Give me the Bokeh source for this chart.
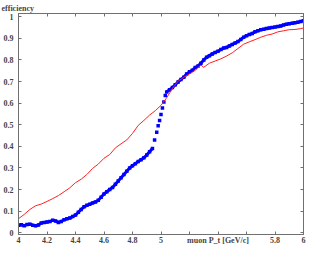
from bokeh.plotting import figure
from bokeh.models import Range1d, LinearAxis, FixedTicker
from bokeh.embed import file_html
from bokeh.resources import INLINE

# ---- data ----
red_x = [4.00, 4.04, 4.08, 4.12, 4.16, 4.20, 4.24, 4.28, 4.32, 4.36, 4.40, 4.44, 4.48,
         4.52, 4.56, 4.60, 4.64, 4.68, 4.72, 4.76, 4.80, 4.84, 4.88, 4.92, 4.96, 5.00,
         5.04, 5.08, 5.12, 5.16, 5.20, 5.24, 5.28, 5.30, 5.34, 5.38, 5.42, 5.46, 5.50,
         5.54, 5.58, 5.62, 5.66, 5.70, 5.74, 5.78, 5.82, 5.86, 5.90, 5.94, 5.98, 6.00]
red_y = [0.065, 0.085, 0.108, 0.125, 0.133, 0.145, 0.158, 0.172, 0.19, 0.208, 0.232, 0.248, 0.27,
         0.298, 0.318, 0.345, 0.362, 0.393, 0.412, 0.43, 0.46, 0.497, 0.52, 0.545, 0.565, 0.59,
         0.625, 0.668, 0.702, 0.72, 0.735, 0.752, 0.776, 0.766, 0.785, 0.795, 0.805, 0.818, 0.833,
         0.853, 0.873, 0.884, 0.894, 0.905, 0.914, 0.92, 0.93, 0.935, 0.94, 0.941, 0.945, 0.948]

blue_x = [4.00, 4.02, 4.04, 4.06, 4.08, 4.10, 4.12, 4.14, 4.16, 4.18, 4.20, 4.22, 4.24, 4.26,
          4.28, 4.30, 4.32, 4.34, 4.36, 4.38, 4.40, 4.42, 4.44, 4.46, 4.48, 4.50, 4.52, 4.54,
          4.56, 4.58, 4.60, 4.62, 4.64, 4.66, 4.68, 4.70, 4.72, 4.74, 4.76, 4.78, 4.80, 4.82,
          4.84, 4.86, 4.88, 4.90, 4.92, 4.94, 4.955, 4.97, 4.98, 4.99, 5.00, 5.01, 5.02, 5.03,
          5.04, 5.06, 5.08, 5.10, 5.12, 5.14, 5.16, 5.18, 5.20, 5.22, 5.24, 5.26, 5.28, 5.30,
          5.32, 5.34, 5.36, 5.38, 5.40, 5.42, 5.44, 5.46, 5.48, 5.50, 5.52, 5.54, 5.56, 5.58,
          5.60, 5.62, 5.64, 5.66, 5.68, 5.70, 5.72, 5.74, 5.76, 5.78, 5.80, 5.82, 5.84, 5.86,
          5.88, 5.90, 5.92, 5.94, 5.96, 5.98, 6.00]
blue_y = [0.035, 0.037, 0.033, 0.038, 0.04, 0.035, 0.032, 0.036, 0.045, 0.048, 0.05, 0.052, 0.058, 0.055,
          0.048, 0.052, 0.06, 0.065, 0.068, 0.075, 0.082, 0.095, 0.108, 0.12, 0.127, 0.132, 0.138, 0.143,
          0.15, 0.165, 0.18, 0.19, 0.2, 0.21, 0.225, 0.24, 0.255, 0.27, 0.285, 0.3, 0.31, 0.32,
          0.33, 0.338, 0.347, 0.36, 0.375, 0.39, 0.43, 0.465, 0.495, 0.52, 0.548, 0.578, 0.605, 0.635,
          0.652, 0.662, 0.672, 0.685, 0.698, 0.71, 0.72, 0.735, 0.745, 0.752, 0.765, 0.772, 0.785, 0.8,
          0.812, 0.82, 0.828, 0.835, 0.84, 0.848, 0.855, 0.858, 0.865, 0.872, 0.878, 0.885, 0.895, 0.905,
          0.912, 0.918, 0.922, 0.93, 0.935, 0.94, 0.942, 0.945, 0.948, 0.95, 0.952, 0.955, 0.957, 0.962,
          0.965, 0.968, 0.97, 0.972, 0.975, 0.978, 0.982]
# indices where the blue points are dense enough to form a continuous band
blue_low_end = 48
blue_high_start = 56

x_ticks = [4.0, 4.2, 4.4, 4.6, 4.8, 5.0, 5.2, 5.4, 5.6, 5.8, 6.0]
x_tick_labels = ["4", "4.2", "4.4", "4.6", "4.8", "5", "", "muon P_t [GeV/c]", "", "5.8", "6"]
y_ticks = [0, 0.1, 0.2, 0.3, 0.4, 0.5, 0.6, 0.7, 0.8, 0.9, 1]
y_tick_labels = ["0", "0.1", "0.2", "0.3", "0.4", "0.5", "0.6", "0.7", "0.8", "0.9", "1"]

FONT = "Liberation Serif"
AXIS_COLOR = "#707070"

p = figure(width=309, height=247, output_backend="svg", toolbar_location=None,
           x_range=Range1d(4, 6), y_range=Range1d(-0.008, 1.015),
           x_axis_location=None, y_axis_location=None,
           min_border_left=0, min_border_right=6, min_border_top=10, min_border_bottom=0)
p.title.text = "efficiency"
p.title.align = "left"
p.title.offset = -17
p.title.standoff = 2
p.title.text_font = FONT
p.title.text_font_size = "8px"
p.title.text_font_style = "bold"
p.grid.visible = False
p.outline_line_color = AXIS_COLOR
p.background_fill_color = "white"
p.border_fill_color = "white"


def style_axis(ax, labels):
    ax.axis_label = None
    ax.axis_line_color = AXIS_COLOR
    ax.major_tick_line_color = AXIS_COLOR
    ax.major_tick_in = 3
    ax.major_tick_out = 0
    ax.minor_tick_line_color = None
    ax.axis_label_standoff = 0
    ax.major_label_text_font = FONT
    ax.major_label_text_font_size = "8px" if labels else "0px"
    ax.major_label_text_font_style = "bold"
    ax.major_label_standoff = 3 if labels else 0


xb = LinearAxis(ticker=FixedTicker(ticks=x_ticks))
xb.major_label_overrides = {t: l for t, l in zip(x_ticks, x_tick_labels)}
style_axis(xb, True)
xb.major_label_standoff = 1
p.add_layout(xb, "below")

xt = LinearAxis(ticker=FixedTicker(ticks=x_ticks))
style_axis(xt, False)
xt.major_label_text_color = None
p.add_layout(xt, "above")

yl = LinearAxis(ticker=FixedTicker(ticks=y_ticks))
yl.major_label_overrides = {t: l for t, l in zip(y_ticks, y_tick_labels)}
style_axis(yl, True)
yl.major_label_standoff = 5
p.add_layout(yl, "left")

yr = LinearAxis(ticker=FixedTicker(ticks=y_ticks))
style_axis(yr, False)
yr.major_label_text_color = None
p.add_layout(yr, "right")

p.line(blue_x[:blue_low_end], blue_y[:blue_low_end], line_color="#0000ff", line_width=3)
p.line(blue_x[blue_high_start:], blue_y[blue_high_start:], line_color="#0000ff", line_width=3)
p.scatter(blue_x, blue_y, marker="square", size=3.5, color="#0000ff", line_width=0)
p.line(red_x, red_y, line_color="#ff2020", line_width=1)

open("out.html", "w").write(file_html(p, INLINE))
